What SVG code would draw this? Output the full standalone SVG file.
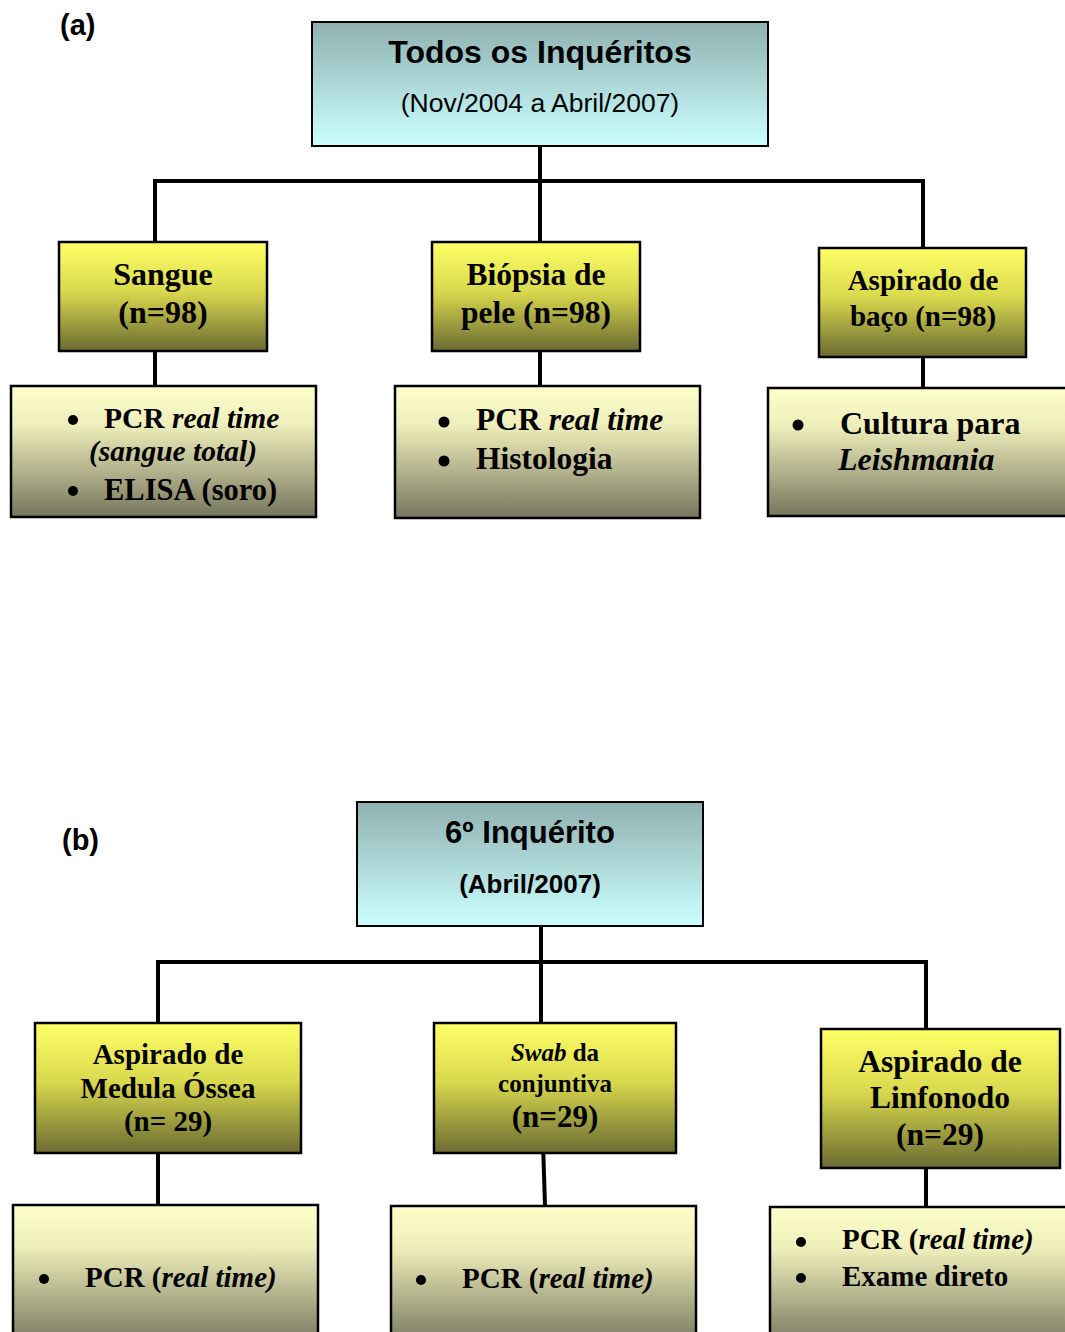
<svg xmlns="http://www.w3.org/2000/svg" width="1065" height="1332" viewBox="0 0 1065 1332">
<defs>
<linearGradient id="gTop" x1="0" y1="0" x2="0" y2="1"><stop offset="0" stop-color="#8eb1b0"/><stop offset="1" stop-color="#ccffff"/></linearGradient>
<linearGradient id="gMid" x1="0" y1="0" x2="0" y2="1"><stop offset="0" stop-color="#ffff66"/><stop offset="0.45" stop-color="#d9d94e"/><stop offset="1" stop-color="#6b6b32"/></linearGradient>
<linearGradient id="gSub" x1="0" y1="0" x2="0" y2="1"><stop offset="0" stop-color="#ffffcc"/><stop offset="0.3" stop-color="#eeeeba"/><stop offset="1" stop-color="#76765e"/></linearGradient>
</defs>
<style>
.top{fill:url(#gTop);stroke:#000;stroke-width:2}
.mid{fill:url(#gMid);stroke:#000;stroke-width:2.5}
.sub{fill:url(#gSub);stroke:#000;stroke-width:2.5}
.ar{font-family:"Liberation Sans",Arial,sans-serif;fill:#000}
.tm{font-family:"Liberation Serif","Times New Roman",serif;font-weight:bold;fill:#000}
.c{text-anchor:middle}
.it{font-style:italic}
.con{stroke:#000;stroke-width:4;fill:none}
.b{fill:#000}
</style>
<rect width="1065" height="1332" fill="#fff"/>
<text class="ar" x="60" y="35" font-size="29" font-weight="bold">(a)</text>
<text class="ar" x="62" y="850" font-size="29" font-weight="bold">(b)</text>
<g id="connectors">
<path class="con" d="M540 146 V181 M155 242 V181 H923 V248 M540 181 V242 M155 351 V386 M540 351 V386 M923 357 V388"/>
<path class="con" d="M541 926 V962 M158 1023 V962 H926 V1029 M541 962 V1023 M158 1153 V1204 M543 1143 L545 1206 M926 1168 V1207"/>
</g>
<g id="n-todos">
<rect class="top" x="312" y="22" width="456" height="124"/>
<text class="ar c" x="540" y="63" font-size="32" font-weight="bold">Todos os Inquéritos</text>
<text class="ar c" x="540" y="112" font-size="26.5">(Nov/2004 a Abril/2007)</text>
</g>
<g id="n-sangue">
<rect class="mid" x="59" y="242" width="208" height="109"/>
<text class="tm c" x="163" y="285" font-size="32">Sangue</text>
<text class="tm c" x="163" y="323" font-size="32">(n=98)</text>
</g>
<g id="n-sangue-tests">
<rect class="sub" x="11" y="386" width="305" height="131"/>
<circle class="b" cx="73" cy="420" r="5"/>
<text class="tm" x="104" y="428" font-size="29.5">PCR <tspan class="it">real time</tspan></text>
<text class="tm it" x="89" y="461" font-size="29.5">(sangue total)</text>
<circle class="b" cx="73" cy="491" r="5"/>
<text class="tm" x="104" y="500" font-size="30.5">ELISA (soro)</text>
</g>
<g id="n-biopsia">
<rect class="mid" x="432" y="242" width="208" height="109"/>
<text class="tm c" x="536" y="285" font-size="31.5">Biópsia de</text>
<text class="tm c" x="536" y="323" font-size="31.5">pele (n=98)</text>
</g>
<g id="n-biopsia-tests">
<rect class="sub" x="395" y="386" width="305" height="132"/>
<circle class="b" cx="444" cy="422" r="5.5"/>
<text class="tm" x="476" y="430" font-size="31.5">PCR <tspan class="it">real time</tspan></text>
<circle class="b" cx="444" cy="461" r="5.5"/>
<text class="tm" x="476" y="469" font-size="31.5">Histologia</text>
</g>
<g id="n-baco">
<rect class="mid" x="819" y="248" width="207" height="109"/>
<text class="tm c" x="923" y="290" font-size="29">Aspirado de</text>
<text class="tm c" x="923" y="326" font-size="29">baço (n=98)</text>
</g>
<g id="n-baco-tests">
<rect class="sub" x="768" y="388" width="300" height="128"/>
<circle class="b" cx="798" cy="425" r="5.5"/>
<text class="tm" x="840" y="434" font-size="32">Cultura para</text>
<text class="tm it" x="838" y="470" font-size="32">Leishmania</text>
</g>
<g id="n-sexto">
<rect class="top" x="357" y="802" width="346" height="124"/>
<text class="ar c" x="530" y="843" font-size="31" font-weight="bold">6º Inquérito</text>
<text class="ar c" x="530" y="893" font-size="26" font-weight="bold">(Abril/2007)</text>
</g>
<g id="n-medula">
<rect class="mid" x="35" y="1023" width="266" height="130"/>
<text class="tm c" x="168" y="1064" font-size="29">Aspirado de</text>
<text class="tm c" x="168" y="1098" font-size="29">Medula Óssea</text>
<text class="tm c" x="168" y="1131" font-size="29">(n= 29)</text>
</g>
<g id="n-medula-tests">
<rect class="sub" x="13" y="1205" width="305" height="140"/>
<circle class="b" cx="44" cy="1279" r="5"/>
<text class="tm" x="85" y="1287" font-size="29">PCR (<tspan class="it">real time)</tspan></text>
</g>
<g id="n-swab">
<rect class="mid" x="434" y="1023" width="242" height="130"/>
<text class="tm c" x="555" y="1061" font-size="25"><tspan class="it">Swab</tspan> da</text>
<text class="tm c" x="555" y="1092" font-size="25">conjuntiva</text>
<text class="tm c" x="555" y="1127" font-size="31">(n=29)</text>
</g>
<g id="n-swab-tests">
<rect class="sub" x="391" y="1206" width="305" height="140"/>
<circle class="b" cx="421" cy="1280" r="5"/>
<text class="tm" x="462" y="1288" font-size="29">PCR (<tspan class="it">real time)</tspan></text>
</g>
<g id="n-linfonodo">
<rect class="mid" x="821" y="1029" width="239" height="139"/>
<text class="tm c" x="940" y="1072" font-size="31.5">Aspirado de</text>
<text class="tm c" x="940" y="1108" font-size="31.5">Linfonodo</text>
<text class="tm c" x="940" y="1145" font-size="31.5">(n=29)</text>
</g>
<g id="n-linfonodo-tests">
<rect class="sub" x="770" y="1207" width="300" height="140"/>
<circle class="b" cx="801" cy="1242" r="5"/>
<text class="tm" x="842" y="1249" font-size="29">PCR (<tspan class="it">real time)</tspan></text>
<circle class="b" cx="801" cy="1278" r="5"/>
<text class="tm" x="842" y="1286" font-size="29">Exame direto</text>
</g>
</svg>
